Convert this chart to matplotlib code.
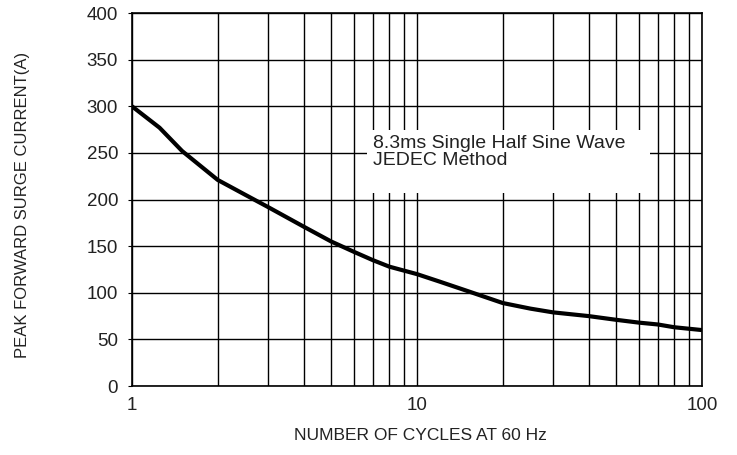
import numpy as np
import matplotlib.pyplot as plt
from matplotlib.patches import Rectangle
from matplotlib.ticker import FixedLocator, NullFormatter

plt.rcParams['font.family'] = ['Liberation Sans', 'DejaVu Sans']

# surge current vs. number of cycles
cycles = [1, 1.25, 1.5, 2, 2.5, 3, 4, 5, 6, 7, 8, 10, 12, 15, 20, 25, 30, 40, 50, 60, 70, 80, 100]
current = [300, 277, 252, 221, 205, 192, 171, 155, 144, 135, 128, 120, 112, 102, 89, 83, 79, 75, 71, 68, 66, 63, 60]

y_ticks = [0, 50, 100, 150, 200, 250, 300, 350, 400]
x_major = [1, 10, 100]
x_labels = ['1', '10', '100']
x_minor = [2, 3, 4, 5, 6, 7, 8, 9, 20, 30, 40, 50, 60, 70, 80, 90]

txt = '#222222'

fig = plt.figure(figsize=(7.37, 4.55), dpi=100)
ax = fig.add_axes([0.179, 0.1516, 0.7735, 0.8198])
ax.set_xscale('log')
ax.set_xlim(1, 100)
ax.set_ylim(0, 400)

ax.set_xticks(x_major)
ax.set_xticklabels(x_labels)
ax.xaxis.set_minor_locator(FixedLocator(x_minor))
ax.xaxis.set_minor_formatter(NullFormatter())
ax.set_yticks(y_ticks)

ax.set_axisbelow(True)
ax.grid(True, which='both', color='black', linewidth=1.0)
for s in ax.spines.values():
    s.set_linewidth(1.2)
    s.set_color('black')

ax.tick_params(axis='x', which='both', length=0, pad=8, labelsize=13.5, labelcolor=txt)
ax.tick_params(axis='y', length=3, pad=7, labelsize=13.5, colors='black', labelcolor=txt)

# white box behind the annotation, hides the grid there
ax.add_patch(Rectangle((0.412, 0.517), 0.497, 0.169, transform=ax.transAxes,
                       facecolor='white', edgecolor='none', zorder=1.5))
ax.text(0.423, 0.638, "8.3ms Single Half Sine Wave", transform=ax.transAxes,
        fontsize=14, va='baseline', ha='left', color=txt, zorder=3)
ax.text(0.423, 0.593, "JEDEC Method", transform=ax.transAxes,
        fontsize=14, va='baseline', ha='left', color=txt, zorder=3)

ax.plot(cycles, current, color='black', linewidth=3, zorder=4,
        solid_capstyle='butt', solid_joinstyle='round')

fig.text(420 / 737, 1 - 436 / 455, "NUMBER OF CYCLES AT 60 Hz",
         fontsize=12.5, color=txt, ha='center', va='center')
fig.text(23 / 737, 1 - 205 / 455, "PEAK FORWARD SURGE CURRENT(A)",
         fontsize=12, color=txt, ha='center', va='center', rotation=90)

plt.savefig("out.png", dpi=100)
